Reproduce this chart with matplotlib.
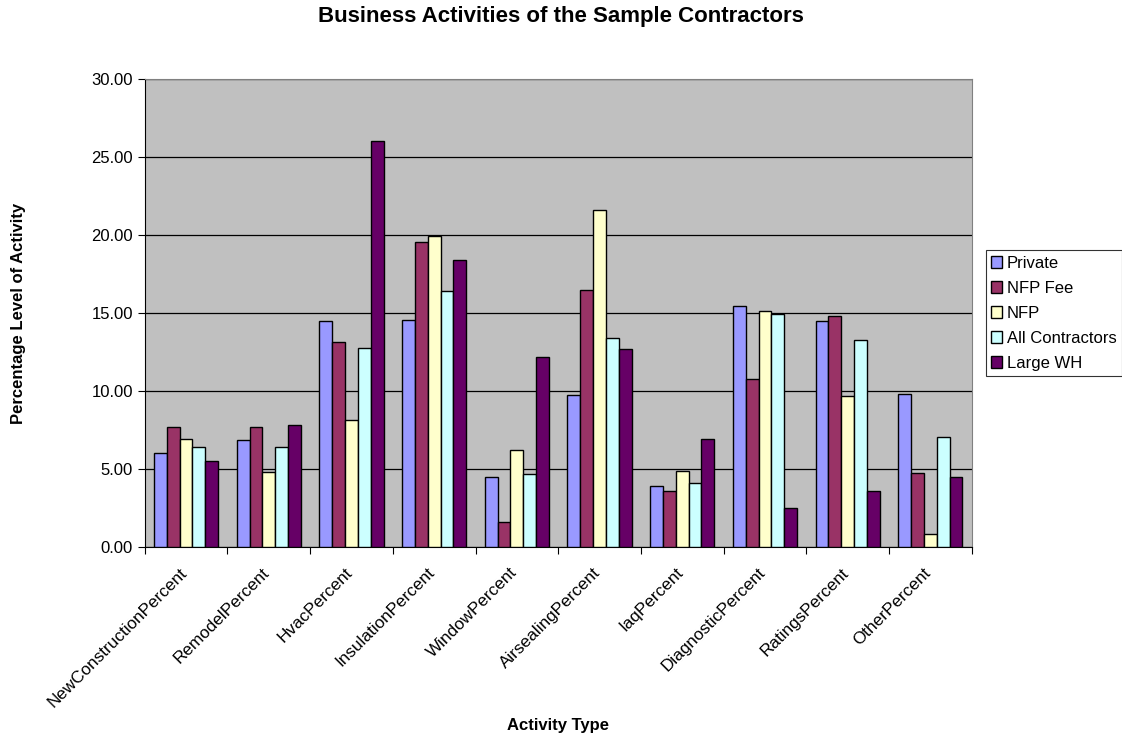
import matplotlib
matplotlib.use("Agg")
import matplotlib.pyplot as plt
import matplotlib.transforms as mtransforms
import numpy as np

plt.rcParams['font.family'] = ['Liberation Sans', 'DejaVu Sans']

# %% data

activities = [
    'NewConstructionPercent', 'RemodelPercent', 'HvacPercent', 'InsulationPercent',
    'WindowPercent', 'AirsealingPercent', 'IaqPercent', 'DiagnosticPercent',
    'RatingsPercent', 'OtherPercent',
]

private = [6.05, 6.87, 14.46, 14.57, 4.49, 9.73, 3.89, 15.47, 14.48, 9.82]
nfp_fee = [7.70, 7.70, 13.11, 19.53, 1.58, 16.47, 3.57, 10.74, 14.82, 4.75]
nfp = [6.90, 4.79, 8.15, 19.96, 6.20, 21.60, 4.86, 15.12, 9.69, 0.81]
all_contractors = [6.42, 6.40, 12.73, 16.43, 4.66, 13.41, 4.11, 14.91, 13.30, 7.04]
large_wh = [5.50, 7.79, 26.01, 18.40, 12.19, 12.66, 6.89, 2.50, 3.61, 4.47]

series_names = ['Private', 'NFP Fee', 'NFP', 'All Contractors', 'Large WH']
series_colors = ['#9999FF', '#993366', '#FFFFCC', '#CCFFFF', '#660066']

# %% figure

fig = plt.figure(figsize=(11.22, 7.4), dpi=100)
ax = fig.add_axes([0.129, 0.261, 0.737, 0.632])
ax.set_facecolor('#C0C0C0')

x = np.arange(len(activities))
w = 0.155
all_series = [private, nfp_fee, nfp, all_contractors, large_wh]
for i, (vals, name, col) in enumerate(zip(all_series, series_names, series_colors)):
    ax.bar(x + (i - 2) * w, vals, width=w, color=col, edgecolor='black',
           linewidth=1.0, label=name, zorder=3)

ax.set_xlim(-0.5, len(activities) - 0.5)
ax.set_ylim(0, 30)
yt = np.arange(0, 30.1, 5)
ax.set_yticks(yt)
ax.set_yticklabels([f'{v:.2f}' for v in yt], fontsize=12)
ax.yaxis.grid(True, color='black', linewidth=0.9, zorder=1)

# category ticks at boundaries, labels at centres
ax.set_xticks(np.arange(-0.5, len(activities)))
ax.set_xticklabels([])
ax.set_xticks(x, minor=True)
ax.set_xticklabels(activities, minor=True, rotation=45, ha='right',
                   rotation_mode='anchor', fontsize=12.3)
ax.tick_params(axis='x', which='minor', length=0, pad=13)
ax.tick_params(axis='x', which='major', length=5, direction='out')
ax.tick_params(axis='y', length=5, direction='out')

# nudge category labels a little to the left, as in the original
shift = mtransforms.ScaledTranslation(-7 / 100, 0, fig.dpi_scale_trans)
for lbl in ax.get_xticklabels(minor=True):
    lbl.set_transform(lbl.get_transform() + shift)

for side in ['top', 'right']:
    ax.spines[side].set_color('#808080')
for side in ['left', 'bottom']:
    ax.spines[side].set_color('black')

ax.set_xlabel('Activity Type', fontsize=12, fontweight='bold')
ax.xaxis.set_label_coords(0.5, -0.367)
ax.set_ylabel('Percentage Level of Activity', fontsize=12, fontweight='bold')
ax.yaxis.set_label_coords(-0.144, 0.5)

fig.suptitle('Business Activities of the Sample Contractors', fontsize=16,
             fontweight='bold', x=0.5, y=0.978, va='center')

leg = ax.legend(loc='upper left', bbox_to_anchor=(1.017, 0.634), fontsize=12,
                frameon=True, fancybox=False, edgecolor='black',
                handlelength=0.65, handleheight=0.65, handletextpad=0.3,
                borderpad=0.33, labelspacing=0.6, borderaxespad=0)
leg.get_frame().set_linewidth(0.8)

fig.savefig('out.png', dpi=100, facecolor='white')
